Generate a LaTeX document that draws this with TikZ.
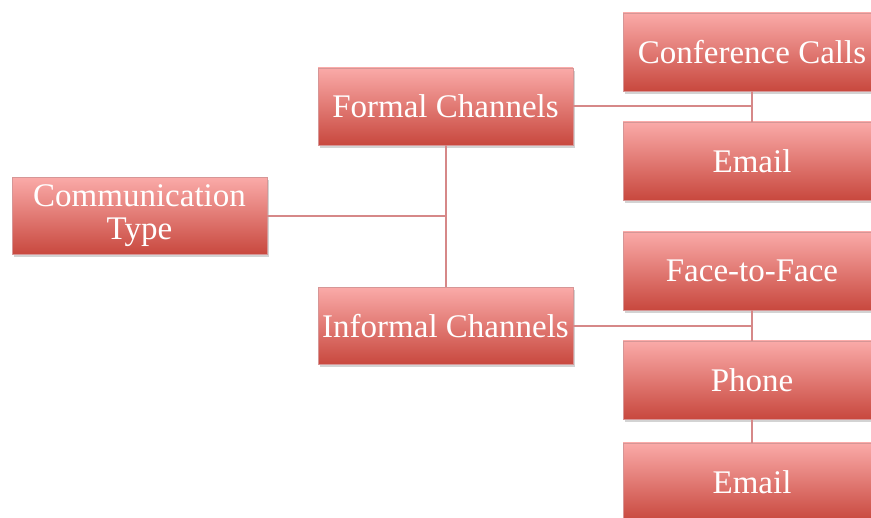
\documentclass[tikz,border=0pt]{standalone}
\usepackage{fontspec}
\setmainfont{Liberation Serif}
\usetikzlibrary{shadows}
\definecolor{boxtop}{RGB}{250,170,168}
\definecolor{boxbot}{RGB}{200,72,62}
\definecolor{boxline}{RGB}{214,150,150}
\definecolor{linkcol}{RGB}{214,136,136}
\begin{document}
\begin{tikzpicture}[x=1pt, y=-1pt,
  box/.style={draw=boxline, line width=0.5pt, top color=boxtop, bottom color=boxbot,
    minimum width=255pt, minimum height=77pt, inner sep=2pt, align=center,
    text=white, font=\fontsize{33}{33}\selectfont,
    drop shadow={shadow xshift=2pt, shadow yshift=-3pt, opacity=0.35}},
  rbox/.style={box, minimum width=258pt, minimum height=78pt},
  link/.style={draw=linkcol, line width=2pt}]
  \useasboundingbox (0,0) rectangle (871,518);
  \node[box] (comm) at (139.5,216.0) {Communication\\Type};
  \node[box] (formal) at (445.5,106.5) {Formal Channels};
  \node[box] (informal) at (445.5,326.0) {Informal Channels};
  \node[rbox] (conf) at (752.0,52.0) {Conference Calls};
  \node[rbox] (email1) at (752.0,161.0) {Email};
  \node[rbox] (face) at (752.0,271.0) {Face-to-Face};
  \node[rbox] (phone) at (752.0,380.0) {Phone};
  \node[rbox] (email2) at (752.0,482.0) {Email};
  \draw[link] (comm.east) -- (comm.east -| formal.south);
  \draw[link] (formal.south) -- (informal.north);
  \draw[link] (formal.east) -- (formal.east -| conf.south);
  \draw[link] (conf.south) -- (email1.north);
  \draw[link] (informal.east) -- (informal.east -| face.south);
  \draw[link] (face.south) -- (phone.north);
  \draw[link] (phone.south) -- (email2.north);
\end{tikzpicture}
\end{document}
